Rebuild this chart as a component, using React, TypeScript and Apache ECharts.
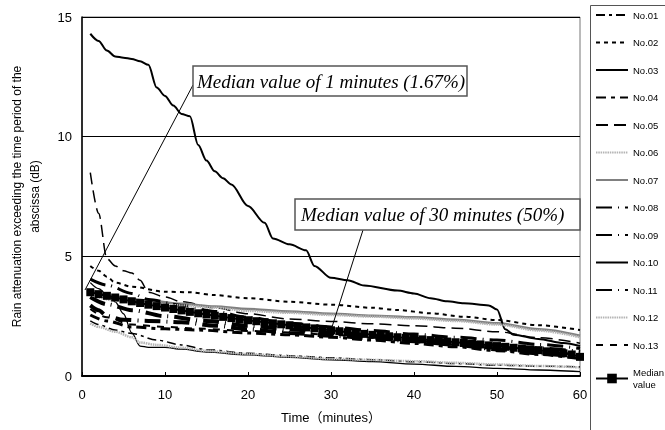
import React, { useEffect, useRef } from "react";
import * as echarts from "echarts";

type Pt = [number, number];

const seriesNames = ["No.01", "No.02", "No.03", "No.04", "No.05", "No.06", "No.07", "No.08", "No.09", "No.10", "No.11", "No.12", "No.13"];
const medianName = "Median value";

const no01: Pt[] = [[1, 2.3], [2, 2.15], [4, 1.92], [6, 1.78], [9, 1.5], [12, 1.3], [15, 1.1], [20, 0.95], [25, 0.85], [30, 0.76], [35, 0.68], [40, 0.6], [45, 0.52], [50, 0.45], [55, 0.41], [60, 0.38]];
const no02: Pt[] = [[1, 4.6], [2, 4.4], [3, 4.15], [4, 3.9], [6, 3.73], [10, 3.52], [13, 3.5], [16, 3.38], [20, 3.25], [25, 3.1], [30, 2.98], [35, 2.85], [38, 2.76], [42, 2.62], [46, 2.48], [50, 2.34], [55, 2.12], [60, 1.92]];
const no03: Pt[] = [[1, 3.9], [2, 3.65], [3, 3.4], [4, 3.1], [5, 2.6], [6, 1.8], [7, 1.25], [8, 1.2], [10, 1.2], [12, 1.12], [15, 1.0], [20, 0.88], [25, 0.78], [30, 0.68], [35, 0.6], [40, 0.5], [45, 0.4], [50, 0.32], [55, 0.25], [60, 0.18]];
const no04: Pt[] = [[1, 2.55], [3, 2.3], [6, 2.05], [10, 1.97], [14, 1.92], [20, 1.8], [25, 1.72], [30, 1.62], [35, 1.5], [40, 1.36], [45, 1.22], [50, 1.06], [55, 0.9], [60, 0.72]];
const no05: Pt[] = [[1, 8.5], [2, 6.8], [3, 4.9], [4, 4.6], [5, 4.4], [6, 4.3], [7, 4.0], [8, 3.5], [10, 3.3], [12, 3.1], [16, 2.85], [20, 2.6], [25, 2.38], [30, 2.28], [35, 2.18], [40, 2.1], [45, 2.0], [50, 1.85], [55, 1.6], [60, 1.37]];
const no06: Pt[] = [[1, 2.2], [2, 2.05], [4, 1.85], [6, 1.62], [7, 1.4], [9, 1.3], [12, 1.18], [15, 1.05], [20, 0.92], [25, 0.82], [30, 0.72], [35, 0.67], [40, 0.62], [45, 0.55], [50, 0.48], [55, 0.42], [60, 0.36]];
const no07: Pt[] = [[1, 3.6], [4, 3.3], [8, 3.15], [12, 3.02], [16, 2.9], [20, 2.8], [25, 2.7], [30, 2.6], [35, 2.52], [40, 2.45], [45, 2.35], [50, 2.2], [55, 1.95], [60, 1.68]];
const no08: Pt[] = [[1, 3.3], [3, 3.0], [6, 2.75], [10, 2.5], [15, 2.3], [20, 2.1], [25, 1.95], [30, 1.8], [35, 1.68], [40, 1.56], [45, 1.45], [50, 1.3], [55, 1.15], [60, 1.0]];
const no09: Pt[] = [[1, 4.05], [3, 3.8], [6, 3.45], [8, 3.2], [12, 2.95], [16, 2.7], [20, 2.45], [25, 2.2], [30, 2.05], [35, 1.9], [40, 1.75], [45, 1.62], [50, 1.5], [55, 1.32], [60, 1.15]];
const no10: Pt[] = [[1, 14.3], [2, 14.0], [3, 13.6], [4, 13.35], [5, 13.3], [6, 13.25], [7, 13.15], [8, 13.0], [9, 12.05], [10, 11.7], [11, 11.3], [12, 10.95], [13, 10.85], [14, 9.65], [15, 9.0], [16, 8.55], [17, 8.26], [18, 8.0], [20, 7.1], [22, 6.4], [23, 5.75], [25, 5.5], [27, 5.25], [28, 4.6], [30, 4.1], [32, 4.0], [34, 3.78], [38, 3.57], [40, 3.45], [42, 3.25], [44, 3.12], [46, 3.04], [49, 2.95], [50, 2.78], [51, 1.95], [52, 1.72], [55, 1.55], [58, 1.38], [60, 1.25]];
const no11: Pt[] = [[1, 2.95], [2, 2.75], [3, 2.5], [5, 2.35], [8, 2.3], [12, 2.25], [16, 2.1], [20, 1.95], [25, 1.8], [30, 1.68], [35, 1.58], [40, 1.45], [45, 1.3], [50, 1.12], [55, 0.95], [60, 0.78]];
const no12: Pt[] = [[1, 3.4], [4, 3.15], [8, 3.0], [12, 2.95], [16, 2.85], [20, 2.72], [25, 2.64], [30, 2.55], [35, 2.48], [40, 2.4], [45, 2.3], [50, 2.15], [55, 1.9], [60, 1.62]];
const no13: Pt[] = [[1, 2.8], [3, 2.45], [6, 2.15], [10, 2.05], [14, 1.98], [20, 1.88], [25, 1.82], [30, 1.72], [35, 1.6], [40, 1.47], [45, 1.32], [50, 1.17], [55, 1.02], [60, 0.9]];

const medianMinutes: number[] = Array.from({ length: 60 }, (_, i) => i + 1);
const medianValues: number[] = [
  3.5, 3.42, 3.35, 3.28, 3.2, 3.12, 3.05, 2.98, 2.92, 2.86,
  2.8, 2.74, 2.68, 2.62, 2.57, 2.52, 2.47, 2.42, 2.37, 2.33,
  2.29, 2.25, 2.2, 2.16, 2.12, 2.07, 2.03, 1.99, 1.95, 1.91,
  1.87, 1.83, 1.79, 1.76, 1.72, 1.69, 1.66, 1.62, 1.59, 1.56,
  1.53, 1.5, 1.47, 1.44, 1.41, 1.38, 1.35, 1.32, 1.28, 1.25,
  1.22, 1.18, 1.15, 1.11, 1.08, 1.03, 0.99, 0.95, 0.9, 0.8,
];

const xTicks = [0, 60, 10];
const yTicks = [0, 15, 5];

const annotationTexts = ["Median value of 1 minutes (1.67%)", "Median value of 30 minutes (50%)"];

const seriesData: Pt[][] = [no01, no02, no03, no04, no05, no06, no07, no08, no09, no10, no11, no12, no13];

const lineStyles: { color: string; width: number; type: any }[] = [
  { color: "#000", width: 1.5, type: [9, 4, 3, 4] },
  { color: "#000", width: 2, type: [4, 4] },
  { color: "#000", width: 1.3, type: "solid" },
  { color: "#000", width: 3, type: [10, 5, 4, 5] },
  { color: "#000", width: 1.5, type: [12, 6] },
  { color: "#b4b4b4", width: 2.5, type: [1.5, 0.8] },
  { color: "#808080", width: 2.5, type: "solid" },
  { color: "#000", width: 4, type: [16, 6, 1, 6] },
  { color: "#000", width: 3, type: [16, 6, 1, 6] },
  { color: "#000", width: 2, type: "solid" },
  { color: "#000", width: 4, type: [16, 6, 1, 6] },
  { color: "#b4b4b4", width: 2.5, type: [1.5, 0.8] },
  { color: "#000", width: 2, type: [7, 7] },
];

export default function App() {
  const ref = useRef<HTMLDivElement>(null);
  useEffect(() => {
    if (!ref.current) return;
    const chart = echarts.init(ref.current, undefined, { renderer: "svg" });
    const series: any[] = seriesNames.map((name, i) => ({
      name,
      type: "line",
      data: seriesData[i],
      symbol: "none",
      smooth: 0.3,
      smoothMonotone: "x",
      lineStyle: { ...lineStyles[i] },
      itemStyle: { color: lineStyles[i].color },
      z: 2,
    }));
    series.push({
      name: medianName,
      type: "line",
      data: medianMinutes.map((m, i) => [m, medianValues[i]]),
      symbol: "rect",
      symbolSize: 8,
      showSymbol: true,
      lineStyle: { color: "#000", width: 2 },
      itemStyle: { color: "#000" },
      z: 3,
    });
    const serif = "'Liberation Serif', 'Times New Roman', serif";
    chart.setOption({
      animation: false,
      grid: { left: 78, top: 17, right: 85, bottom: 54, show: true, borderColor: "#777", borderWidth: 1 },
      xAxis: {
        type: "value",
        min: xTicks[0],
        max: xTicks[1],
        interval: xTicks[2],
        name: "Time（minutes）",
        nameLocation: "middle",
        nameGap: 35,
        nameTextStyle: { fontSize: 13, color: "#000", fontFamily: "'Liberation Sans', 'Noto Sans CJK JP', sans-serif" },
        axisLine: { show: true, lineStyle: { color: "#000", width: 2 } },
        axisTick: { show: true, inside: true, length: 4, lineStyle: { color: "#000" } },
        axisLabel: { fontSize: 13, color: "#000", margin: 12, fontFamily: "'Liberation Sans', sans-serif" },
        splitLine: { show: false },
      },
      yAxis: {
        type: "value",
        min: yTicks[0],
        max: yTicks[1],
        interval: yTicks[2],
        name: "Rain attenuation exceeding the time period of the\nabscissa (dB)",
        nameLocation: "middle",
        nameGap: 38,
        nameTextStyle: { fontSize: 12, color: "#000", lineHeight: 18, fontFamily: "'Liberation Sans', sans-serif" },
        axisLine: { show: true, lineStyle: { color: "#000", width: 1.5 } },
        axisTick: { show: false },
        axisLabel: { fontSize: 13, color: "#000", margin: 10, fontFamily: "'Liberation Sans', sans-serif" },
        splitLine: { show: true, lineStyle: { color: "#000", width: 1 } },
      },
      legend: {
        orient: "vertical",
        left: 595,
        top: 9,
        padding: 0,
        itemWidth: 32,
        itemHeight: 12,
        itemGap: 15.5,
        textStyle: { fontSize: 9.5, color: "#000", lineHeight: 12, fontFamily: "'Liberation Sans', sans-serif" },
        formatter: (n: string) => (n === medianName ? "Median\nvalue" : n),
        data: [
          ...seriesNames.map((n) => ({ name: n, itemStyle: { opacity: 0 } })),
          { name: medianName },
        ],
      },
      graphic: [
        { type: "rect", left: 588, top: 3, shape: { x: 0, y: 0, width: 120, height: 450 }, style: { fill: "none", stroke: "#555", lineWidth: 1 }, silent: true },
        { type: "line", shape: { x1: 193, y1: 85, x2: 85, y2: 290 }, style: { stroke: "#000", lineWidth: 1 }, z: 10 },
        { type: "rect", shape: { x: 193, y: 66, width: 274, height: 30 }, style: { fill: "#fff", stroke: "#555", lineWidth: 1.5 }, z: 10 },
        { type: "text", x: 197, y: 81, style: { text: annotationTexts[0], font: `italic 19px ${serif}`, fill: "#000", verticalAlign: "middle" }, z: 11 },
        { type: "line", shape: { x1: 363, y1: 230, x2: 332, y2: 327 }, style: { stroke: "#000", lineWidth: 1 }, z: 10 },
        { type: "rect", shape: { x: 295, y: 199, width: 285, height: 31 }, style: { fill: "#fff", stroke: "#555", lineWidth: 1.5 }, z: 10 },
        { type: "text", x: 301, y: 214.5, style: { text: annotationTexts[1], font: `italic 19px ${serif}`, fill: "#000", verticalAlign: "middle" }, z: 11 },
      ],
      series,
    });
    return () => chart.dispose();
  }, []);
  return <div ref={ref} style={{ position: "fixed", left: 0, top: 0, width: 665, height: 430 }} />;
}
